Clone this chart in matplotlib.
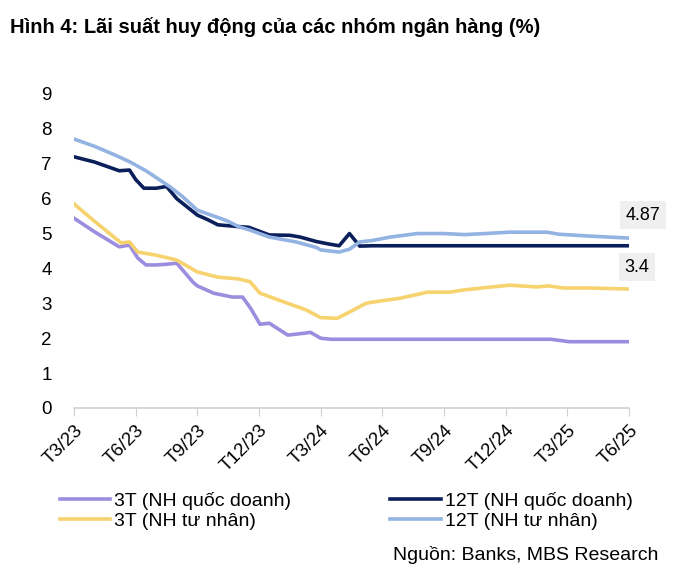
import matplotlib.pyplot as plt
import numpy as np

# months counted from T3/23
tick_months = [0, 3, 6, 9, 12, 15, 18, 21, 24, 27]
tick_labels = ['T3/23', 'T6/23', 'T9/23', 'T12/23', 'T3/24', 'T6/24',
               'T9/24', 'T12/24', 'T3/25', 'T6/25']

m_3t_qd = [0, 1, 2.2, 2.7, 3.1, 3.5, 4.0, 4.5, 5.0, 5.8, 6.0, 6.8, 7.7, 8.2, 8.6,
           9.05, 9.5, 10.4, 11.3, 11.5, 12.0, 12.5, 23.2, 24.1, 27]
v_3t_qd = [5.44, 5.05, 4.62, 4.67, 4.3, 4.1, 4.1, 4.12, 4.15, 3.6, 3.5, 3.29, 3.18,
           3.18, 2.85, 2.4, 2.43, 2.09, 2.15, 2.17, 2.0, 1.97, 1.97, 1.9, 1.9]

m_3t_tn = [0, 1, 2.3, 2.7, 3.1, 4, 5, 6, 7, 8, 8.56, 9.05, 10.4, 11.3, 12.0, 12.45,
           12.8, 13.5, 14.2, 14.7, 15.9, 17.2, 18.3, 18.9, 20, 21.2, 22.5, 23.1,
           23.8, 25, 27]
v_3t_tn = [5.85, 5.35, 4.73, 4.76, 4.47, 4.38, 4.24, 3.9, 3.75, 3.7, 3.62, 3.29,
           3.0, 2.81, 2.59, 2.58, 2.57, 2.78, 3.0, 3.05, 3.15, 3.32, 3.32, 3.38,
           3.45, 3.52, 3.47, 3.5, 3.44, 3.44, 3.41]

m_12t_qd = [0, 1, 2.2, 2.7, 3.0, 3.4, 4.0, 4.5, 5.0, 6.0, 6.5, 7.0, 8.0, 8.5, 9.5,
            10.5, 11.0, 11.8, 12.4, 12.9, 13.4, 13.9, 14.5, 27]
v_12t_qd = [7.2, 7.05, 6.8, 6.82, 6.55, 6.3, 6.3, 6.35, 6.0, 5.53, 5.4, 5.25, 5.2,
            5.18, 4.96, 4.95, 4.9, 4.77, 4.7, 4.65, 5.0, 4.64, 4.65, 4.65]

m_12t_tn = [0, 1, 2, 2.7, 3.5, 4.67, 5.3, 6.0, 7.1, 7.5, 8.0, 8.56, 9.5, 10.8,
            11.8, 12.0, 12.9, 13.4, 13.9, 14.5, 15.4, 16.7, 18, 19, 20, 21.2, 23,
            23.6, 25, 26, 27]
v_12t_tn = [7.71, 7.5, 7.25, 7.06, 6.8, 6.34, 6.05, 5.67, 5.44, 5.35, 5.2, 5.1,
            4.9, 4.76, 4.6, 4.53, 4.47, 4.55, 4.76, 4.8, 4.9, 5.0, 5.0, 4.97, 5.0,
            5.04, 5.04, 4.98, 4.93, 4.9, 4.87]

c_3t_qd = '#9d8ddf'
c_3t_tn = '#f6d36e'
c_12t_qd = '#0b1f5b'
c_12t_tn = '#93b3e2'

plt.rcParams['font.family'] = ['Liberation Sans', 'DejaVu Sans']

fig = plt.figure(figsize=(7, 5.77), dpi=100)
ax = fig.add_axes([74 / 700, 1 - 408 / 577, 555 / 700, 314 / 577])

lw = 2.6
ax.plot(m_3t_qd, v_3t_qd, color=c_3t_qd, lw=lw, label='3T (NH quốc doanh)')
ax.plot(m_3t_tn, v_3t_tn, color=c_3t_tn, lw=lw, label='3T (NH tư nhân)')
ax.plot(m_12t_qd, v_12t_qd, color=c_12t_qd, lw=lw, label='12T (NH quốc doanh)')
ax.plot(m_12t_tn, v_12t_tn, color=c_12t_tn, lw=lw, label='12T (NH tư nhân)')

ax.set_xlim(0, 27)
ax.set_ylim(0, 9)
ax.set_yticks(range(0, 10))
ax.set_xticks(tick_months)
ax.set_xticklabels(tick_labels, rotation=45, ha='right', rotation_mode='anchor')
ax.tick_params(axis='y', length=0, labelsize=13.5, pad=16)
ax.tick_params(axis='x', length=6, color='#d0d0d0', labelsize=13.5, pad=4)
for s in ['top', 'right', 'left']:
    ax.spines[s].set_visible(False)
ax.spines['bottom'].set_color('#d0d0d0')
ax.spines['bottom'].set_linewidth(1.2)

box = dict(facecolor='#efefef', edgecolor='none', pad=4)
ax.annotate('4.87', xy=(27, v_12t_tn[-1]), xytext=(14, 23), textcoords='offset pixels',
            ha='center', va='center', fontsize=13, bbox=box, annotation_clip=False)
ax.annotate('3.4', xy=(27, v_3t_tn[-1]), xytext=(8, 22), textcoords='offset pixels',
            ha='center', va='center', fontsize=13, bbox=box, annotation_clip=False)

fig.text(10 / 700, 1 - 27 / 577, 'Hình 4: Lãi suất huy động của các nhóm ngân hàng (%)',
         fontsize=14.5, fontweight='bold', va='center', ha='left')

fig.legend(loc='center left', bbox_to_anchor=(42 / 700, 1 - 511 / 577), ncol=2,
           frameon=False, fontsize=14, handlelength=2.6, handletextpad=0.2,
           columnspacing=5.1, labelspacing=0.12)

fig.text(658 / 700, 1 - 555 / 577, 'Nguồn: Banks, MBS Research', fontsize=14,
         ha='right', va='center')

fig.savefig('out.png', dpi=100)
